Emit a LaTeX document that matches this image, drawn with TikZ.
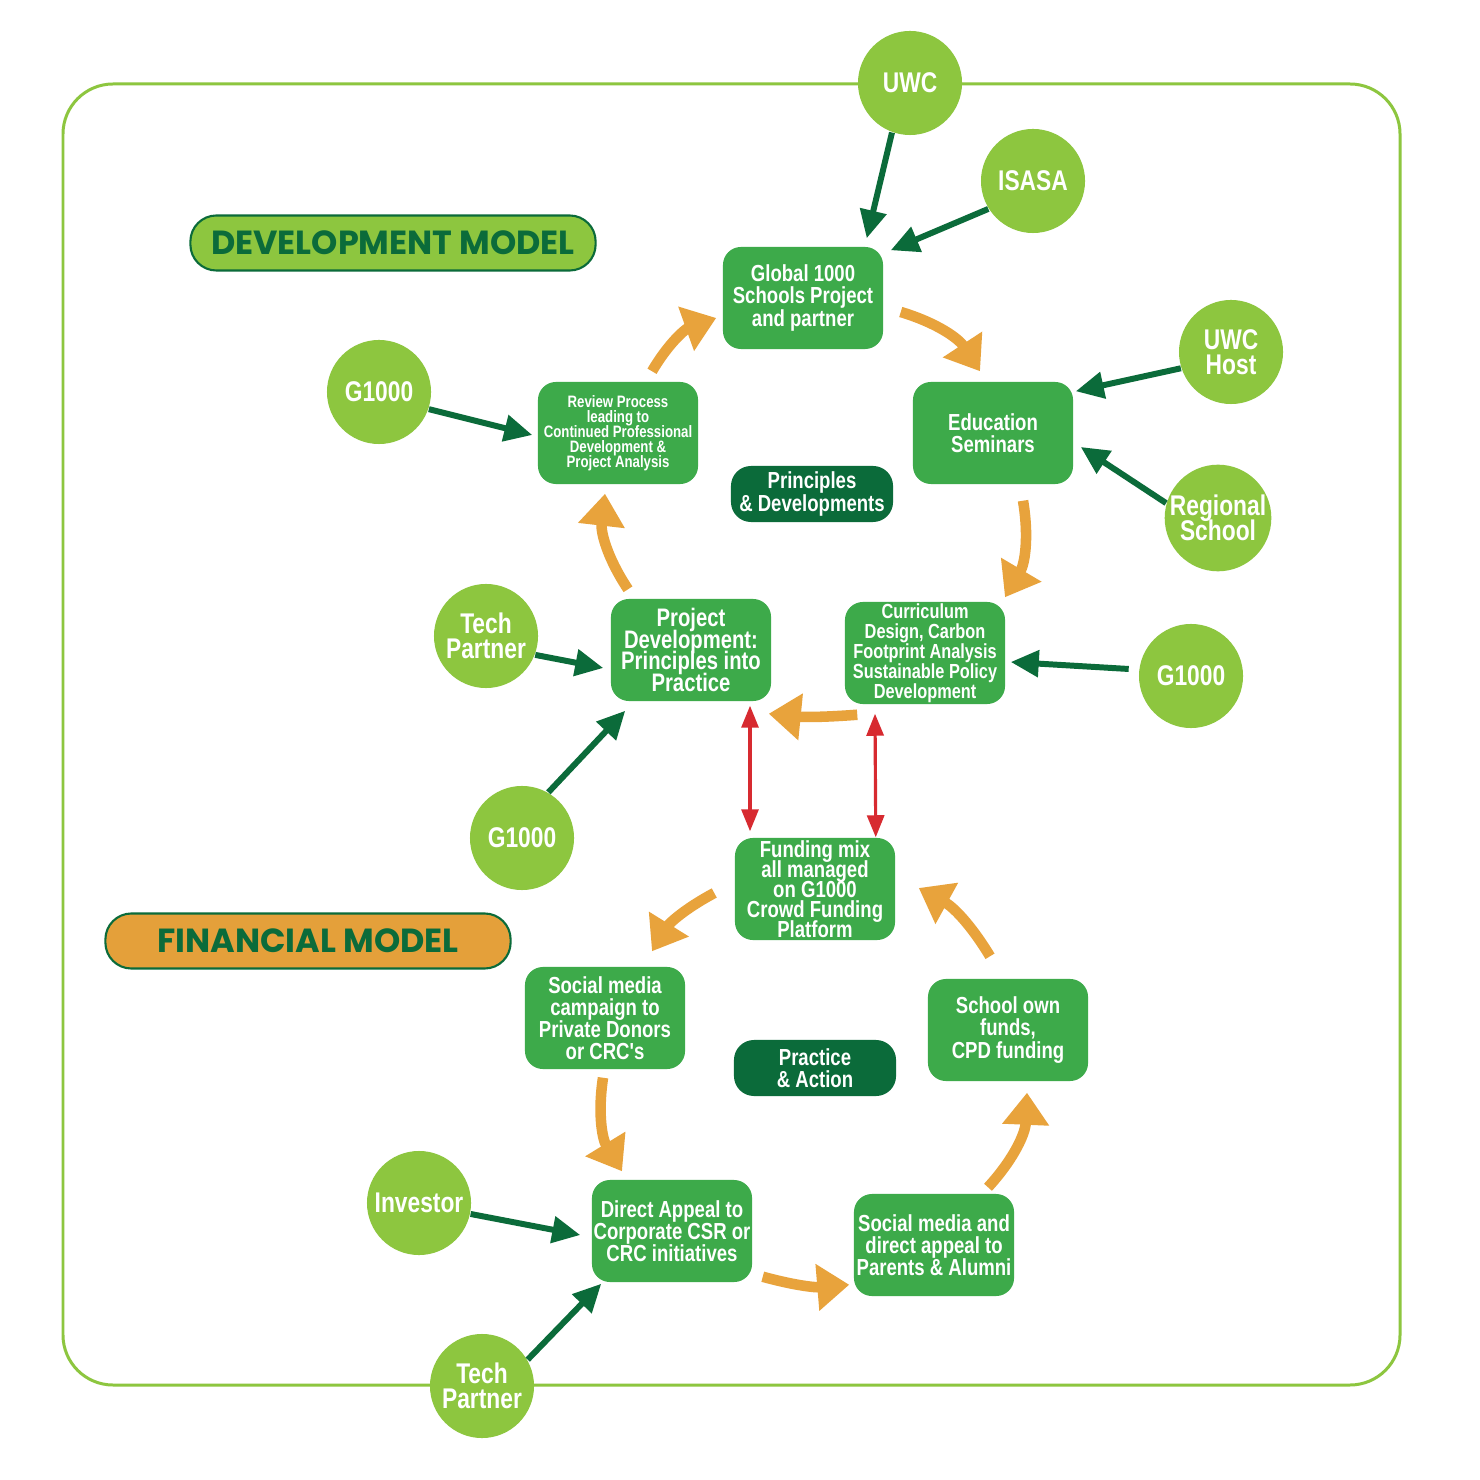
\documentclass[tikz,border=0pt]{standalone}
\usepackage{fontspec}
\setmainfont{Liberation Sans}
\newfontfamily\narrowfont{Liberation Sans}[FakeStretch=0.8]
\newfontfamily\titlefont{Poppins}
\usetikzlibrary{arrows.meta}

\definecolor{lightgreen}{HTML}{8DC63F}
\definecolor{boxgreen}{HTML}{3DAA4A}
\definecolor{darkgreen}{HTML}{0B6B3A}
\definecolor{orangearrow}{HTML}{E8A33C}
\definecolor{finorange}{HTML}{E4A03A}
\definecolor{redarrow}{HTML}{D72A30}

\newcommand{\nfont}[2]{\narrowfont\bfseries\fontsize{#1}{#2}\selectfont\lineskiplimit=-20pt}
\newcommand{\boxfont}{\nfont{6.6}{6.3}}
\newcommand{\circfont}{\nfont{8.1}{7.1}}

\begin{document}
\begin{tikzpicture}[x=0.01cm,y=-0.01cm,>=latex,
  circ/.style={circle,fill=lightgreen,minimum size=1.04cm,inner sep=0pt,text=white,align=center,font=\circfont},
  box/.style={rectangle,rounded corners=0.18cm,fill=boxgreen,minimum width=1.6cm,minimum height=1.02cm,inner sep=0pt,text=white,align=center,font=\boxfont},
  darkbox/.style={box,fill=darkgreen,minimum width=1.62cm,minimum height=0.56cm,rounded corners=0.2cm},
  title/.style={rectangle,rounded corners=0.26cm,draw=darkgreen,line width=0.6pt,minimum width=4.05cm,minimum height=0.55cm,text=darkgreen,font=\titlefont\bfseries\fontsize{9.5}{9.5}\selectfont},
  darr/.style={draw=darkgreen,line width=1.7pt,-{Triangle[length=0.28cm,width=0.26cm]}},
  oarr/.style={draw=orangearrow,line width=3pt,-{Triangle[length=0.32cm,width=0.45cm]}},
  rarr/.style={draw=redarrow,line width=0.9pt,{Triangle[length=0.22cm,width=0.17cm]}-{Triangle[length=0.22cm,width=0.17cm]}}]
  \useasboundingbox (0,0) rectangle (1480,1480);
  \fill[white] (0,0) rectangle (1480,1480);
  % frame and titles
  \draw[lightgreen,line width=0.85pt,rounded corners=0.5cm] (63,84) rectangle (1400,1385);
  \node[title,fill=lightgreen] (devtitle) at (393,243) {DEVELOPMENT MODEL};
  \node[title,fill=finorange] (fintitle) at (308,941) {FINANCIAL MODEL};

  % development model
  \node[box] (glob) at (803,298) {Global 1000\\Schools Project\\and partner};
  \node[box] (edu) at (993,433) {Education\\Seminars};
  \node[box,font=\nfont{4.7}{4.3}] (review) at (618,433)
    {Review Process\\leading to\\Continued Professional\\Development \&\\Project Analysis};
  \node[box,font=\nfont{7.2}{6.2}] (proj) at (691,650)
    {Project\\Development:\\Principles into\\Practice};
  \node[box,font=\nfont{5.8}{5.7}] (curr) at (925,653)
    {Curriculum\\Design, Carbon\\Footprint Analysis\\Sustainable Policy\\Development};
  \node[darkbox] (princ) at (812,494) {Principles\\\& Developments};

  % financial model
  \node[box,font=\nfont{6.6}{5.7}] (fund) at (815,889)
    {Funding mix\\all managed\\on G1000\\Crowd Funding\\Platform};
  \node[box] (social) at (605,1018) {Social media\\campaign to\\Private Donors\\or CRC's};
  \node[box] (school) at (1008,1030) {School own\\funds,\\CPD funding};
  \node[box] (direct) at (672,1231) {Direct Appeal to\\Corporate CSR or\\CRC initiatives};
  \node[box] (socdir) at (934,1245) {Social media and\\direct appeal to\\Parents \& Alumni};
  \node[darkbox] (pract) at (815,1068) {Practice\\\& Action};

  % partners
  \node[circ] (uwc) at (910,83) {UWC};
  \node[circ] (isasa) at (1033,181) {ISASA};
  \node[circ] (uwchost) at (1231,352) {UWC\\Host};
  \node[circ] (regional) at (1218,518) {Regional\\School};
  \node[circ] (gright) at (1191,676) {G1000};
  \node[circ] (gtop) at (379,392) {G1000};
  \node[circ] (tech) at (486,636) {Tech\\Partner};
  \node[circ] (gmid) at (522,838) {G1000};
  \node[circ] (investor) at (419,1203) {Investor};
  \node[circ] (techb) at (482,1386) {Tech\\Partner};

  % partner arrows
  \draw[darr] (uwc.250) -- ([shift={(-17,-8)}]glob.north east);
  \draw[darr] (isasa.212) -- ([shift={(7,4)}]glob.north east);
  \draw[darr] (uwchost.198) -- ([shift={(2,10)}]edu.north east);
  \draw[darr] (regional.164) -- ([shift={(7,14)}]edu.east);
  \draw[darr,shorten <=0.1cm] (gright.173) -- ([shift={(5,9)}]curr.east);
  \draw[darr] (gtop.-19) -- ([shift={(-5,2)}]review.west);
  \draw[darr] (tech.-21) -- ([shift={(-7,18)}]proj.west);
  \draw[darr] (gmid.60) -- ([shift={(15,9)}]proj.south west);
  \draw[darr] (investor.-12) -- ([shift={(-11,4)}]direct.west);
  \draw[darr] (techb.30) -- ([shift={(10,1)}]direct.south west);

  % cycles
  \draw[oarr] ([shift={(17,14)}]glob.east) to[bend left=20] ([shift={(-13,-10)}]edu.north);
  \draw[oarr] ([shift={(30,16)}]edu.south) to[bend left=20] ([shift={(80,-4)}]curr.north);
  \draw[oarr] ([shift={(13,10)}]curr.south west) to[bend left=5] ([shift={(-3,12)}]proj.south east);
  \draw[oarr] ([shift={(-63,-9)}]proj.north) to[bend left=20] ([shift={(-13,9)}]review.south);
  \draw[oarr] ([shift={(34,-10)}]review.north) to[bend left=20] ([shift={(-6,20)}]glob.west);
  \draw[oarr] ([shift={(-20,4)}]fund.west) to[bend right=15] ([shift={(47,-15)}]social.north);
  \draw[oarr] ([shift={(-2,8)}]social.south) to[bend right=20] ([shift={(-50,-8)}]direct.north);
  \draw[oarr] ([shift={(10,-6)}]direct.south east) to[bend right=10] ([shift={(-4,-12)}]socdir.south west);
  \draw[oarr] ([shift={(54,-6)}]socdir.north) to[bend right=20] ([shift={(19,11)}]school.south);
  \draw[oarr] ([shift={(-18,-22)}]school.north) to[bend right=15] ([shift={(23,-1)}]fund.east);

  % links between the models
  \draw[rarr] ([shift={(59,4)}]proj.south) -- ([shift={(-65,-6)}]fund.north);
  \draw[rarr] ([shift={(-50,9)}]curr.south) -- ([shift={(-20,0)}]fund.north east);
\end{tikzpicture}
\end{document}
